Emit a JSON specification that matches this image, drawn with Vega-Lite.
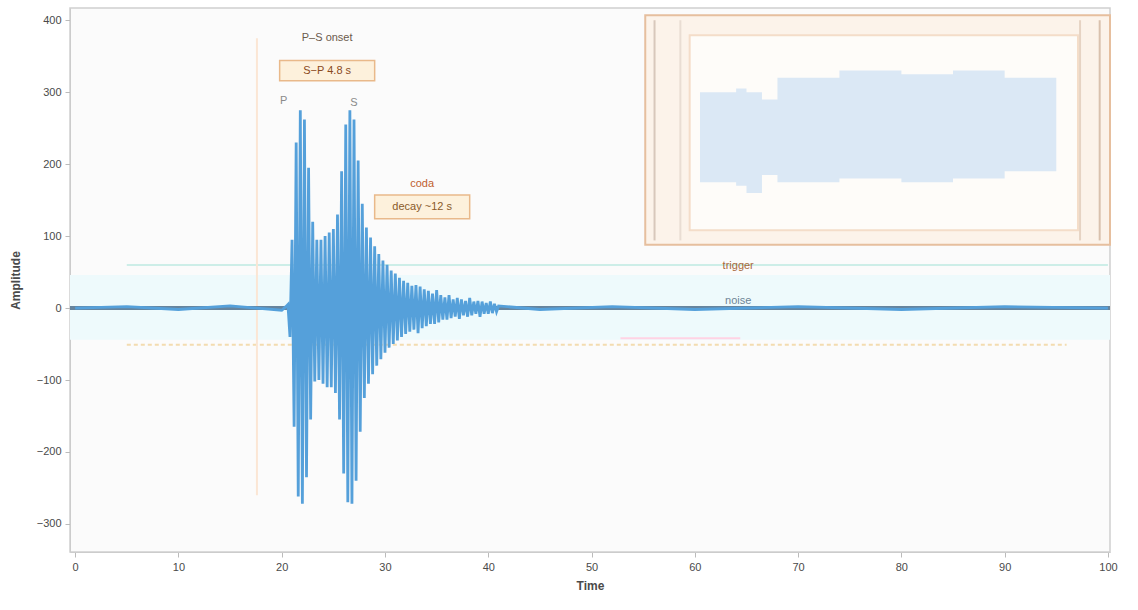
{
  "$schema": "https://vega.github.io/schema/vega-lite/v6.json",
  "width": 1040,
  "height": 544,
  "autosize": {"type": "none"},
  "padding": {"left": 70, "top": 8, "right": 28, "bottom": 58},
  "background": "white",
  "config": {
    "font": "Liberation Sans",
    "view": {"fill": "#fbfbfb", "stroke": "#cfcfcf", "strokeWidth": 1.5},
    "axis": {
      "labelFont": "Liberation Sans",
      "titleFont": "Liberation Sans",
      "labelFontSize": 11,
      "titleFontSize": 12,
      "labelColor": "#4a4a4a",
      "titleColor": "#4a4a4a",
      "tickColor": "#bbbbbb",
      "domainColor": "#cccccc",
      "grid": false
    }
  },
  "datasets": {
    "trace": [
      {"t": 0, "v": 0}, {"t": 5, "v": 2}, {"t": 10, "v": -2}, {"t": 15, "v": 3}, {"t": 20, "v": -3}, {"t": 20.4, "v": 2},
      {"t": 20.6, "v": 5}, {"t": 20.8, "v": -40}, {"t": 21.0, "v": 95}, {"t": 21.2, "v": -165},
      {"t": 21.4, "v": 230}, {"t": 21.6, "v": -262}, {"t": 21.8, "v": 275}, {"t": 22.0, "v": -272},
      {"t": 22.2, "v": 262}, {"t": 22.4, "v": -235}, {"t": 22.6, "v": 195}, {"t": 22.8, "v": -155},
      {"t": 23.0, "v": 120}, {"t": 23.2, "v": -102}, {"t": 23.4, "v": 95}, {"t": 23.6, "v": -100},
      {"t": 23.8, "v": 95}, {"t": 24.0, "v": -105}, {"t": 24.2, "v": 100}, {"t": 24.4, "v": -110},
      {"t": 24.6, "v": 105}, {"t": 24.8, "v": -110}, {"t": 25.0, "v": 110}, {"t": 25.2, "v": -118},
      {"t": 25.4, "v": 130}, {"t": 25.6, "v": -155}, {"t": 25.8, "v": 190}, {"t": 26.0, "v": -230},
      {"t": 26.2, "v": 255}, {"t": 26.4, "v": -270}, {"t": 26.6, "v": 275}, {"t": 26.8, "v": -272},
      {"t": 27.0, "v": 262}, {"t": 27.2, "v": -240}, {"t": 27.4, "v": 205}, {"t": 27.6, "v": -172},
      {"t": 27.8, "v": 145}, {"t": 28.0, "v": -125}, {"t": 28.2, "v": 112}, {"t": 28.4, "v": -105},
      {"t": 28.6, "v": 98}, {"t": 28.8, "v": -92}, {"t": 29.0, "v": 86}, {"t": 29.2, "v": -80},
      {"t": 29.4, "v": 75}, {"t": 29.6, "v": -71}, {"t": 29.8, "v": 66}, {"t": 30.0, "v": -62},
      {"t": 30.2, "v": 60}, {"t": 30.4, "v": -55}, {"t": 30.6, "v": 52}, {"t": 30.8, "v": -50},
      {"t": 31.0, "v": 48}, {"t": 31.2, "v": -45}, {"t": 31.4, "v": 42}, {"t": 31.6, "v": -40},
      {"t": 31.8, "v": 38}, {"t": 32.0, "v": -36}, {"t": 32.2, "v": 35}, {"t": 32.4, "v": -33},
      {"t": 32.6, "v": 31}, {"t": 32.8, "v": -30}, {"t": 33.0, "v": 32}, {"t": 33.2, "v": -35},
      {"t": 33.4, "v": 30}, {"t": 33.6, "v": -28}, {"t": 33.8, "v": 26}, {"t": 34.0, "v": -25},
      {"t": 34.2, "v": 24}, {"t": 34.4, "v": -22}, {"t": 34.6, "v": 20}, {"t": 34.8, "v": -22},
      {"t": 35.0, "v": 25}, {"t": 35.2, "v": -20}, {"t": 35.4, "v": 18}, {"t": 35.6, "v": -16},
      {"t": 35.8, "v": 15}, {"t": 36.0, "v": -16}, {"t": 36.2, "v": 18}, {"t": 36.4, "v": -14},
      {"t": 36.6, "v": 12}, {"t": 36.8, "v": -12}, {"t": 37.0, "v": 14}, {"t": 37.2, "v": -15},
      {"t": 37.4, "v": 12}, {"t": 37.6, "v": -10}, {"t": 37.8, "v": 10}, {"t": 38.0, "v": -12},
      {"t": 38.2, "v": 14}, {"t": 38.4, "v": -10}, {"t": 38.6, "v": 9}, {"t": 38.8, "v": -8},
      {"t": 39.0, "v": 10}, {"t": 39.2, "v": -12}, {"t": 39.4, "v": 9}, {"t": 39.6, "v": -8},
      {"t": 39.8, "v": 7}, {"t": 40.0, "v": -8}, {"t": 40.2, "v": 9}, {"t": 40.4, "v": -7},
      {"t": 40.6, "v": 6}, {"t": 40.8, "v": -5}, {"t": 41.0, "v": 3},
      {"t": 45, "v": -2}, {"t": 52, "v": 2}, {"t": 60, "v": -2}, {"t": 70, "v": 2},
      {"t": 80, "v": -2}, {"t": 90, "v": 2}, {"t": 100, "v": 0}
    ],
    "insetSpectrum": [
      {"t": 60.5, "top": 300, "bottom": 175},
      {"t": 64.0, "top": 305, "bottom": 170},
      {"t": 65.0, "top": 300, "bottom": 160},
      {"t": 66.5, "top": 290, "bottom": 185},
      {"t": 68.0, "top": 320, "bottom": 175},
      {"t": 74.0, "top": 330, "bottom": 180},
      {"t": 80.0, "top": 325, "bottom": 175},
      {"t": 85.0, "top": 330, "bottom": 180},
      {"t": 90.0, "top": 320, "bottom": 190},
      {"t": 95.0, "top": 300, "bottom": 200}
    ]
  },
  "layer": [
    {
      "data": {"values": [{"t": -0.5, "t2": 100.2, "v": 46, "v2": -44}]},
      "mark": {"type": "rect", "color": "#eefafc"},
      "encoding": {
        "x": {"field": "t", "type": "quantitative", "scale": {"domain": [-0.5, 100.2], "nice": false, "zero": false},
          "axis": {"values": [0, 10, 20, 30, 40, 50, 60, 70, 80, 90, 100], "title": "Time", "labelPadding": 4, "titlePadding": 8, "tickSize": 5}},
        "x2": {"field": "t2"},
        "y": {"field": "v", "type": "quantitative", "scale": {"domain": [-339, 417], "nice": false, "zero": false},
          "axis": {"values": [-300, -200, -100, 0, 100, 200, 300, 400], "title": "Amplitude", "labelPadding": 4, "titlePadding": 14, "tickSize": 5}},
        "y2": {"field": "v2"}
      }
    },
    {
      "data": {"values": [
        {"t": 55.2, "t2": 100.2, "v": 407, "v2": 88, "kind": "outer"},
        {"t": 59.5, "t2": 97.1, "v": 379, "v2": 108, "kind": "inner"}
      ]},
      "mark": {"type": "rect", "strokeWidth": 2},
      "encoding": {
        "x": {"field": "t", "type": "quantitative"},
        "x2": {"field": "t2"},
        "y": {"field": "v", "type": "quantitative"},
        "y2": {"field": "v2"},
        "fill": {"field": "kind", "type": "nominal", "scale": {"domain": ["outer", "inner"], "range": ["#fcf3ea", "#fefcf9"]}, "legend": null},
        "stroke": {"field": "kind", "type": "nominal", "scale": {"domain": ["outer", "inner"], "range": ["#e6bf9e", "#f4ddc9"]}, "legend": null}
      }
    },
    {
      "data": {"name": "insetSpectrum"},
      "mark": {"type": "area", "color": "#dbe8f5", "interpolate": "step-after"},
      "encoding": {
        "x": {"field": "t", "type": "quantitative"},
        "y": {"field": "top", "type": "quantitative"},
        "y2": {"field": "bottom"}
      }
    },
    {
      "data": {"values": [
        {"t": 56.1, "c": "#d8c8bc"}, {"t": 58.6, "c": "#e9ddd3"},
        {"t": 97.3, "c": "#e6d3c3"}, {"t": 99.2, "c": "#d9c1ad"}
      ]},
      "mark": {"type": "rule", "strokeWidth": 2},
      "encoding": {
        "x": {"field": "t", "type": "quantitative"},
        "y": {"datum": 400},
        "y2": {"datum": 94},
        "color": {"field": "c", "type": "nominal", "scale": null}
      }
    },
    {
      "data": {"values": [
        {"t": 5, "t2": 96, "v": -51, "c": "#f3dcb0", "d": 4},
        {"t": 52.8, "t2": 64.4, "v": -42, "c": "#ffd3e4", "d": 0},
        {"t": 5, "t2": 100, "v": 60, "c": "#cdeee8", "d": 0}
      ]},
      "mark": {"type": "rule", "strokeWidth": 2},
      "encoding": {
        "x": {"field": "t", "type": "quantitative"},
        "x2": {"field": "t2"},
        "y": {"field": "v", "type": "quantitative"},
        "color": {"field": "c", "type": "nominal", "scale": null},
        "strokeDash": {"field": "d", "type": "quantitative", "scale": {"domain": [0, 4], "range": [[1, 0], [4, 3]]}, "legend": null}
      }
    },
    {
      "data": {"values": [{"t": 17.6}]},
      "mark": {"type": "rule", "color": "#fbe6d4", "strokeWidth": 2},
      "encoding": {
        "x": {"field": "t", "type": "quantitative"},
        "y": {"datum": 375},
        "y2": {"datum": -260}
      }
    },
    {
      "data": {"values": [{"v": 0}]},
      "mark": {"type": "rule", "color": "#66849d", "strokeWidth": 4},
      "encoding": {
        "y": {"field": "v", "type": "quantitative"}
      }
    },
    {
      "data": {"name": "trace"},
      "mark": {"type": "line", "color": "#55a0da", "strokeWidth": 2.8},
      "encoding": {
        "x": {"field": "t", "type": "quantitative"},
        "y": {"field": "v", "type": "quantitative"}
      }
    },
    {
      "data": {"values": [
        {"t": 19.8, "t2": 29.0, "v": 344, "v2": 316},
        {"t": 29.0, "t2": 38.2, "v": 157, "v2": 124}
      ]},
      "mark": {"type": "rect", "fill": "#fdf1dc", "stroke": "#e9b98a", "strokeWidth": 1.5},
      "encoding": {
        "x": {"field": "t", "type": "quantitative"},
        "x2": {"field": "t2"},
        "y": {"field": "v", "type": "quantitative"},
        "y2": {"field": "v2"}
      }
    },
    {
      "data": {"values": [
        {"t": 24.4, "v": 376, "label": "P–S onset", "c": "#6b5a4c", "w": "bold"},
        {"t": 24.4, "v": 330, "label": "S−P 4.8 s", "c": "#8a4a1c", "w": "bold"},
        {"t": 20.2, "v": 288, "label": "P", "c": "#8a8a8a", "w": "normal"},
        {"t": 27.0, "v": 285, "label": "S", "c": "#8a8a8a", "w": "normal"},
        {"t": 33.6, "v": 173, "label": "coda", "c": "#c0602e", "w": "bold"},
        {"t": 33.6, "v": 140, "label": "decay ~12 s", "c": "#8a5a2a", "w": "bold"},
        {"t": 64.2, "v": 58, "label": "trigger", "c": "#a8683a", "w": "bold"},
        {"t": 64.2, "v": 10, "label": "noise", "c": "#6f8596", "w": "normal"}
      ]},
      "mark": {"type": "text", "fontSize": 11, "align": "center", "baseline": "middle"},
      "encoding": {
        "x": {"field": "t", "type": "quantitative"},
        "y": {"field": "v", "type": "quantitative"},
        "text": {"field": "label"},
        "color": {"field": "c", "type": "nominal", "scale": null},
        "fontWeight": {"field": "w", "type": "nominal", "scale": null}
      }
    }
  ]
}
